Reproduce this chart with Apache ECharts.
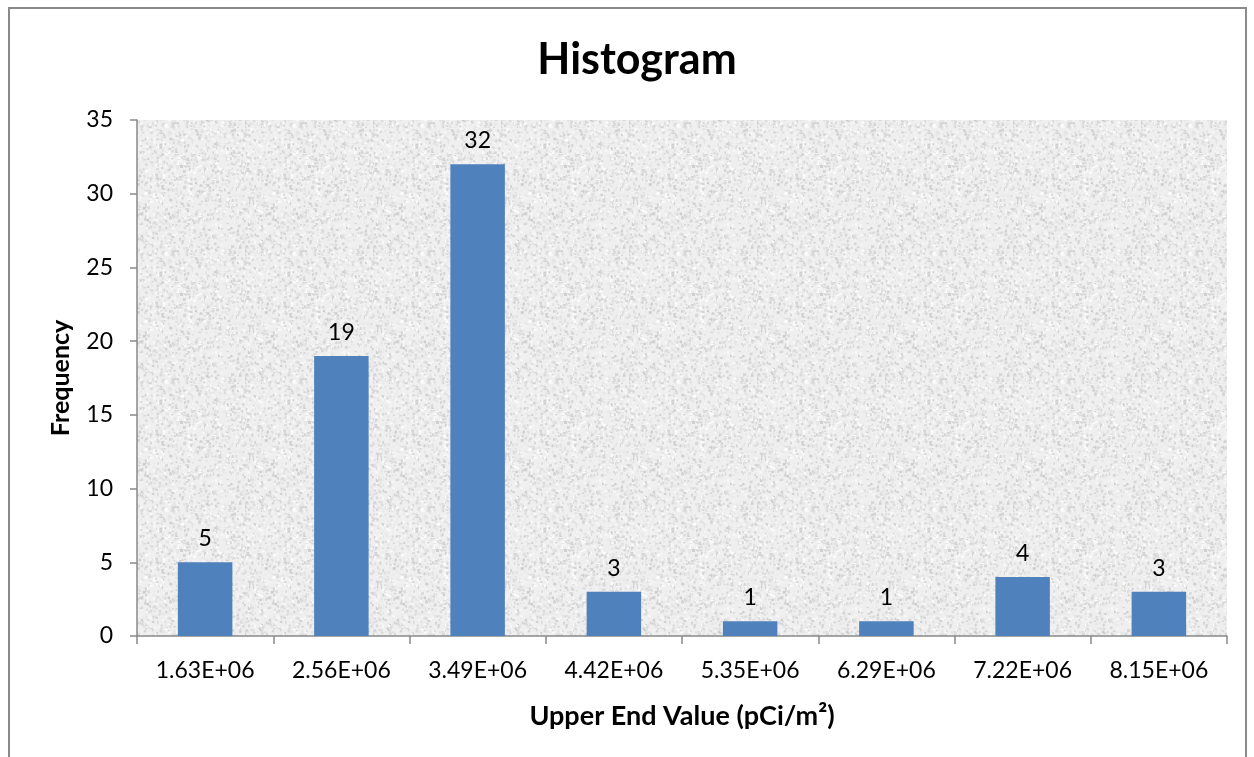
<!DOCTYPE html>
<html><head><meta charset="utf-8">
<script src="https://cdn.jsdelivr.net/npm/echarts@6/dist/echarts.min.js"></script>
<style>html,body{margin:0;padding:0;background:#fff}#c{width:1254px;height:757px}</style>
</head><body><div id="c"></div>
<script>
const categories = ['1.63E+06','2.56E+06','3.49E+06','4.42E+06','5.35E+06','6.29E+06','7.22E+06','8.15E+06'];
const frequency = [5, 19, 32, 3, 1, 1, 4, 3];
const yTicks = {min: 0, max: 35, interval: 5};

// granite-like texture for plot background (decoration only)
function makeTexture(){
  const cv = document.createElement('canvas');
  cv.width = 128; cv.height = 128;
  const ctx = cv.getContext('2d');
  ctx.fillStyle = '#efefef'; ctx.fillRect(0,0,128,128);
  let s = 12345;
  function rnd(){ s = (s*1103515245 + 12345) & 0x7fffffff; return s/0x7fffffff; }
  for(let i=0;i<2400;i++){
    const x = rnd()*128, y = rnd()*128, g = Math.floor(205 + rnd()*50);
    ctx.fillStyle = 'rgb('+g+','+g+','+g+')';
    ctx.fillRect(x, y, 1+rnd()*2, 1+rnd()*2);
  }
  return cv;
}

const chart = echarts.init(document.getElementById('c'), null, {renderer:'canvas'});
const font = 'Lato, "Open Sans", sans-serif';
chart.setOption({
  backgroundColor: '#fff',
  animation: false,
  title: {text: 'Histogram', left: 632, top: 34, textAlign: 'center',
    textStyle: {fontFamily: font, fontSize: 43, fontWeight: 'bold', color: '#000'}},
  graphic: [{type:'rect', shape:{x:9, y:8, width:1237, height:800}, style:{fill:'none', stroke:'#8a8a8a', lineWidth:2}, z:-1}],
  grid: {left: 137, right: 27, top: 120, bottom: 121, show: true,
    backgroundColor: {image: makeTexture(), repeat: 'repeat'}, borderWidth: 0},
  xAxis: {type: 'category', data: categories,
    name: 'Upper End Value (pCi/m²)', nameLocation: 'middle', nameGap: 67,
    nameTextStyle: {fontFamily: font, fontSize: 27, fontWeight: 'bold', color: '#000'},
    axisLine: {lineStyle: {color: '#898989', width: 1.5}},
    axisTick: {show: true, length: 8, alignWithLabel: false, lineStyle: {color: '#898989', width: 1.5}},
    axisLabel: {fontFamily: font, fontSize: 23, color: '#000', margin: 23}},
  yAxis: {type: 'value', min: yTicks.min, max: yTicks.max, interval: yTicks.interval,
    name: 'Frequency', nameLocation: 'middle', nameGap: 64, nameRotate: 90,
    nameTextStyle: {fontFamily: font, fontSize: 25, fontWeight: 'bold', color: '#000'},
    axisLine: {show: true, lineStyle: {color: '#898989', width: 1.5}},
    axisTick: {show: true, length: 7, lineStyle: {color: '#898989', width: 1.5}},
    splitLine: {show: false},
    axisLabel: {fontFamily: font, fontSize: 23, color: '#000', margin: 24}},
  series: [{type: 'bar', data: frequency, barWidth: '40%',
    itemStyle: {color: '#4f81bd'},
    label: {show: true, position: 'top', distance: 12, fontFamily: font, fontSize: 23, color: '#000'}}]
});
</script></body></html>
